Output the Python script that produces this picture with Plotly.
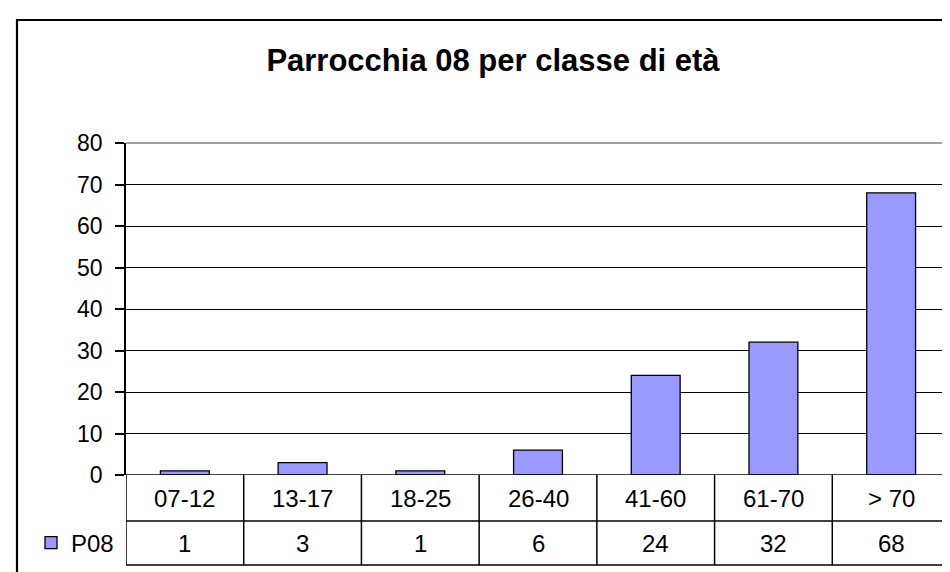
import plotly.graph_objects as go

categories = ["07-12", "13-17", "18-25", "26-40", "41-60", "61-70", "> 70"]
values = [1, 3, 1, 6, 24, 32, 68]
series_name = "P08"
title_text = "Parrocchia 08 per classe di età"
y_ticks = [0, 10, 20, 30, 40, 50, 60, 70, 80]

FONT = "Liberation Sans, Arial, sans-serif"
W, H = 950, 572
ML, MR, MT, MB = 118, 8, 135, 105
plot_w = W - ML - MR
plot_h = H - MT - MB
n = len(categories)
cat_w = plot_w / n

# table rows in paper units (below the plot area)
row1_bot = -46 / plot_h
row2_bot = -90 / plot_h
legend_left = -0.5 - 86 / cat_w

fig = go.Figure()
fig.add_trace(go.Bar(
    x=list(range(n)), y=values, name=series_name,
    marker=dict(color="#9999FF", line=dict(color="black", width=1.3)),
    showlegend=True,
))

shapes = []
# outer chart border
shapes.append(dict(type="rect", xref="paper", yref="paper",
                   x0=-109 / plot_w, x1=1.05, y0=-0.45, y1=(plot_h + MT - 12) / plot_h,
                   line=dict(color="black", width=2.2), fillcolor="rgba(0,0,0,0)", layer="above"))
# plot-area gray border (top and right)
shapes.append(dict(type="line", xref="x", yref="paper", x0=-0.5, x1=n - 0.5, y0=1, y1=1,
                   line=dict(color="#808080", width=1.5)))
shapes.append(dict(type="line", xref="x", yref="paper", x0=n - 0.5, x1=n - 0.5, y0=1, y1=row2_bot,
                   line=dict(color="#808080", width=1.5)))
# table vertical lines
for i in range(n):
    shapes.append(dict(type="line", xref="x", yref="paper", x0=i - 0.5, x1=i - 0.5,
                       y0=0, y1=row2_bot, line=dict(color="black", width=1.5)))
# legend cell left
shapes.append(dict(type="line", xref="x", yref="paper", x0=legend_left, x1=legend_left,
                   y0=row1_bot, y1=row2_bot, line=dict(color="black", width=1.5)))
# table horizontal lines
for yy in (row1_bot, row2_bot):
    shapes.append(dict(type="line", xref="x", yref="paper", x0=legend_left, x1=n - 0.5,
                       y0=yy, y1=yy, line=dict(color="black", width=1.5)))
# zero line across
shapes.append(dict(type="line", xref="x", yref="y", x0=-0.5, x1=n - 0.5, y0=0, y1=0,
                   line=dict(color="black", width=1.5)))

annotations = []
for i, (c, v) in enumerate(zip(categories, values)):
    annotations.append(dict(x=i, y=row1_bot / 2, xref="x", yref="paper", text=c,
                            showarrow=False, font=dict(family=FONT, size=24, color="black"),
                            xanchor="center", yanchor="middle"))
    annotations.append(dict(x=i, y=(row1_bot + row2_bot) / 2, xref="x", yref="paper", text=str(v),
                            showarrow=False, font=dict(family=FONT, size=24, color="black"),
                            xanchor="center", yanchor="middle"))

fig.update_layout(
    width=W, height=H,
    margin=dict(l=ML, r=MR, t=MT, b=MB),
    paper_bgcolor="white", plot_bgcolor="white",
    title=dict(text="<b>" + title_text + "</b>", x=485 / W, y=1 - 52 / H,
               xanchor="center", yanchor="middle", xref="container", yref="container",
               font=dict(family=FONT, size=31, color="black")),
    bargap=0.585,
    shapes=shapes,
    annotations=annotations,
    showlegend=True,
    legend=dict(x=(23 - ML) / plot_w, y=(row1_bot + row2_bot) / 2, xanchor="left", yanchor="middle",
                font=dict(family=FONT, size=24, color="black"), bgcolor="rgba(0,0,0,0)",
                borderwidth=0, itemclick=False),
    xaxis=dict(range=[-0.5, n - 0.5], showticklabels=False, showgrid=False, zeroline=False,
               showline=False, ticks=""),
    yaxis=dict(range=[0, 80], tickvals=y_ticks, ticktext=[str(t) for t in y_ticks],
               showgrid=True, gridcolor="black", gridwidth=1.3, zeroline=False,
               showline=True, linecolor="black", linewidth=1.5,
               ticks="outside", ticklen=9, tickcolor="black", tickwidth=1.5,
               ticklabelstandoff=8,
               tickfont=dict(family=FONT, size=23, color="black")),
)

fig.write_html("out.html")
